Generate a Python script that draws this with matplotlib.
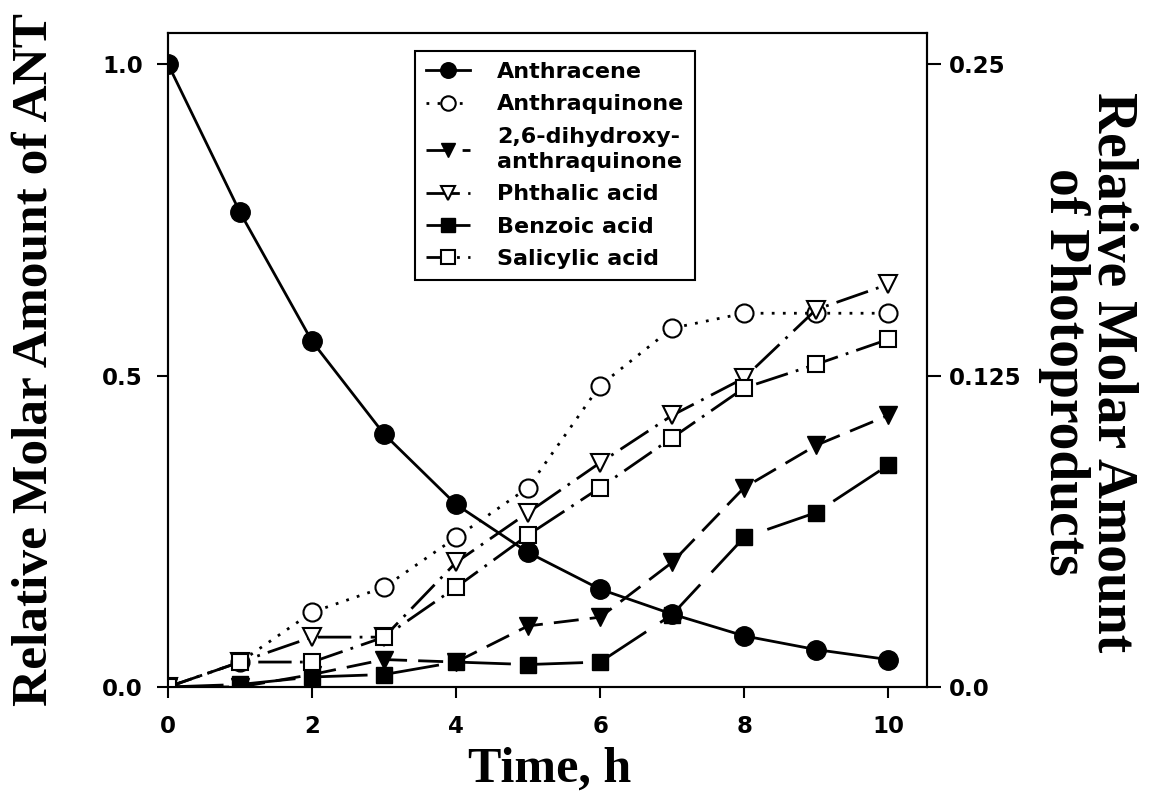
import matplotlib
matplotlib.use('Agg')
import matplotlib.pyplot as plt

time_h = [0, 1, 2, 3, 4, 5, 6, 7, 8, 9, 10]

# left axis: anthracene (fraction of initial amount)
anthracene = [1.0, 0.762, 0.555, 0.406, 0.293, 0.216, 0.157, 0.117, 0.082, 0.060, 0.044]

# right axis: photoproducts
anthraquinone = [0.0, 0.010, 0.030, 0.040, 0.060, 0.080, 0.121, 0.144, 0.150, 0.150, 0.150]
dihydroxy_aq = [0.0, 0.0, 0.005, 0.011, 0.010, 0.0245, 0.028, 0.050, 0.080, 0.097, 0.109]
phthalic = [0.0, 0.010, 0.020, 0.020, 0.050, 0.070, 0.090, 0.109, 0.124, 0.1515, 0.1616]
benzoic = [0.0, 0.001, 0.004, 0.005, 0.010, 0.009, 0.010, 0.029, 0.060, 0.070, 0.089]
salicylic = [0.0, 0.010, 0.010, 0.020, 0.040, 0.061, 0.080, 0.100, 0.120, 0.1295, 0.1395]

left_ticks = [0.0, 0.5, 1.0]
left_ticklabels = ['0.0', '0.5', '1.0']
right_ticks = [0.0, 0.125, 0.25]
right_ticklabels = ['0.0', '0.125', '0.25']
x_ticks = [0, 2, 4, 6, 8, 10]


def main():
    plt.rcParams['font.family'] = 'DejaVu Sans'
    tick_font = dict(size=16.5, weight='bold')
    label_font = dict(family='Liberation Serif', weight='bold')

    fig = plt.figure(figsize=(11.5, 8.1), dpi=100)
    ax = fig.add_axes([0.1461, 0.1519, 0.66, 0.8074])
    ax2 = ax.twinx()

    lw = 2.0
    h1, = ax.plot(time_h, anthracene, color='black', lw=lw, ls='-',
                  marker='o', ms=14, mfc='black', mec='black', label='Anthracene')

    h2, = ax2.plot(time_h, anthraquinone, color='black', lw=lw, ls=(0, (1, 3)),
                   marker='o', ms=13, mfc='white', mec='black', mew=1.5,
                   label='Anthraquinone')
    h3, = ax2.plot(time_h, dihydroxy_aq, color='black', lw=lw, ls=(0, (9, 4)),
                   marker='v', ms=13, mfc='black', mec='black',
                   label='2,6-dihydroxy-\nanthraquinone')
    h4, = ax2.plot(time_h, phthalic, color='black', lw=lw, ls=(0, (12, 3, 1, 3)),
                   marker='v', ms=13, mfc='white', mec='black', mew=1.5,
                   label='Phthalic acid')
    h5, = ax2.plot(time_h, benzoic, color='black', lw=lw, ls=(0, (20, 6)),
                   marker='s', ms=12, mfc='black', mec='black',
                   label='Benzoic acid')
    h6, = ax2.plot(time_h, salicylic, color='black', lw=lw, ls=(4, (12, 3, 1, 3)),
                   marker='s', ms=12, mfc='white', mec='black', mew=1.5,
                   label='Salicylic acid')

    ax.set_xlim(0, 10.54)
    ax.set_ylim(0, 1.05)
    ax2.set_ylim(0, 0.2625)

    ax.set_xticks(x_ticks)
    ax.set_xticklabels([str(t) for t in x_ticks], **tick_font)
    ax.set_yticks(left_ticks)
    ax.set_yticklabels(left_ticklabels, **tick_font)
    ax2.set_yticks(right_ticks)
    ax2.set_yticklabels(right_ticklabels, **tick_font)

    ax.tick_params(axis='x', direction='out', length=8, width=1.5, pad=12)
    ax.tick_params(axis='y', direction='out', length=8, width=1.5, pad=10)
    ax2.tick_params(axis='y', direction='out', length=10, width=1.5, pad=6)
    for a in (ax, ax2):
        for sp in a.spines.values():
            sp.set_linewidth(1.5)

    leg = ax2.legend(handles=[h1, h2, h3, h4, h5, h6], loc='upper left',
                     bbox_to_anchor=(0.325, 0.9725), borderaxespad=0,
                     prop=dict(size=16, weight='bold'), fancybox=False,
                     framealpha=1, edgecolor='black', handlelength=2.0,
                     handletextpad=1.2, labelspacing=0.55, borderpad=0.5,
                     markerscale=0.8)
    leg.get_frame().set_linewidth(1.5)
    leg.get_texts()[2].set_linespacing(1.35)

    fig.text(550 / 1150, 1 - 770 / 810, 'Time, h', ha='center', va='center',
             size=36, **label_font)
    fig.text(35 / 1150, 1 - 360 / 810, 'Relative Molar Amount of ANT',
             ha='center', va='center', rotation=90, size=37, **label_font)
    fig.text(1088 / 1150, 1 - 372 / 810, 'Relative Molar Amount\nof Photoproducts',
             ha='center', va='center', rotation=270, size=40, linespacing=0.92,
             multialignment='center', **label_font)

    fig.savefig('out.png', dpi=100)
    plt.close(fig)


if __name__ == '__main__':
    main()
